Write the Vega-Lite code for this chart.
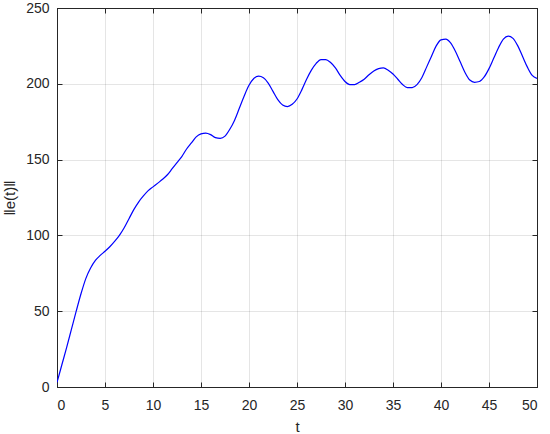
{
  "$schema": "https://vega.github.io/schema/vega-lite/v6.json",
  "width": 480,
  "height": 379,
  "autosize": "none",
  "padding": {"left": 57, "top": 8, "right": 13, "bottom": 47},
  "background": "white",
  "config": {
    "font": "Liberation Sans",
    "view": {"stroke": "#262626", "strokeWidth": 1},
    "axis": {
      "domainColor": "#262626",
      "tickColor": "#262626",
      "labelColor": "#262626",
      "titleColor": "#262626",
      "labelFont": "Liberation Sans",
      "titleFont": "Liberation Sans",
      "labelFontSize": 14,
      "titleFontSize": 15,
      "titleFontWeight": "normal",
      "gridColor": "#262626",
      "gridOpacity": 0.12,
      "tickSize": -5
    }
  },
  "data": {"values": [
    {"t": 0, "v": 3}, {"t": 0.5, "v": 14.5}, {"t": 1, "v": 26}, {"t": 1.5, "v": 38},
    {"t": 2, "v": 50}, {"t": 2.5, "v": 61.5}, {"t": 3, "v": 71.5}, {"t": 3.5, "v": 78.5},
    {"t": 4, "v": 83.5}, {"t": 4.5, "v": 86.8}, {"t": 5, "v": 89.5}, {"t": 5.5, "v": 92.5},
    {"t": 6, "v": 96}, {"t": 6.5, "v": 100}, {"t": 7, "v": 105}, {"t": 7.5, "v": 111},
    {"t": 8, "v": 117}, {"t": 8.5, "v": 122}, {"t": 9, "v": 126}, {"t": 9.5, "v": 129.5},
    {"t": 10, "v": 132}, {"t": 10.5, "v": 134.5}, {"t": 11, "v": 137}, {"t": 11.5, "v": 140},
    {"t": 12, "v": 144}, {"t": 12.5, "v": 148}, {"t": 13, "v": 152}, {"t": 13.5, "v": 157},
    {"t": 14, "v": 161}, {"t": 14.5, "v": 165}, {"t": 15, "v": 167}, {"t": 15.5, "v": 167.5},
    {"t": 16, "v": 166.5}, {"t": 16.5, "v": 164.5}, {"t": 17, "v": 164}, {"t": 17.5, "v": 165.5},
    {"t": 18, "v": 170}, {"t": 18.5, "v": 176}, {"t": 19, "v": 184}, {"t": 19.5, "v": 192},
    {"t": 20, "v": 199}, {"t": 20.5, "v": 203.5}, {"t": 21, "v": 205}, {"t": 21.5, "v": 204},
    {"t": 22, "v": 200.5}, {"t": 22.5, "v": 195}, {"t": 23, "v": 189.5}, {"t": 23.5, "v": 186},
    {"t": 24, "v": 185}, {"t": 24.5, "v": 186.5}, {"t": 25, "v": 190}, {"t": 25.5, "v": 196},
    {"t": 26, "v": 203}, {"t": 26.5, "v": 209}, {"t": 27, "v": 213.5}, {"t": 27.5, "v": 216},
    {"t": 28, "v": 216}, {"t": 28.5, "v": 214}, {"t": 29, "v": 210.5}, {"t": 29.5, "v": 205.5},
    {"t": 30, "v": 201.5}, {"t": 30.5, "v": 199.5}, {"t": 31, "v": 199.5}, {"t": 31.5, "v": 201},
    {"t": 32, "v": 203}, {"t": 32.5, "v": 206}, {"t": 33, "v": 208.5}, {"t": 33.5, "v": 210},
    {"t": 34, "v": 210.5}, {"t": 34.5, "v": 209}, {"t": 35, "v": 206.5}, {"t": 35.5, "v": 203},
    {"t": 36, "v": 199.5}, {"t": 36.5, "v": 197.5}, {"t": 37, "v": 197.5}, {"t": 37.5, "v": 199.5},
    {"t": 38, "v": 204}, {"t": 38.5, "v": 211}, {"t": 39, "v": 218}, {"t": 39.5, "v": 225},
    {"t": 40, "v": 229}, {"t": 40.5, "v": 229.5}, {"t": 41, "v": 227}, {"t": 41.5, "v": 221.5},
    {"t": 42, "v": 214.5}, {"t": 42.5, "v": 207.5}, {"t": 43, "v": 202.5}, {"t": 43.5, "v": 201},
    {"t": 44, "v": 201.5}, {"t": 44.5, "v": 204.5}, {"t": 45, "v": 210}, {"t": 45.5, "v": 217},
    {"t": 46, "v": 224}, {"t": 46.5, "v": 229.5}, {"t": 47, "v": 231.5}, {"t": 47.5, "v": 230},
    {"t": 48, "v": 225}, {"t": 48.5, "v": 218}, {"t": 49, "v": 211}, {"t": 49.5, "v": 205.5},
    {"t": 50, "v": 203.5}
  ]},
  "layer": [
    {
      "mark": {"type": "line", "color": "#0000ff", "strokeWidth": 1.2, "interpolate": "monotone", "clip": true},
      "encoding": {
        "x": {"field": "t", "type": "quantitative", "scale": {"domain": [0, 50], "nice": false, "zero": false},
              "axis": {"orient": "bottom", "title": "t", "values": [0,5,10,15,20,25,30,35,40,45,50], "labelPadding": 16, "titlePadding": 7}},
        "y": {"field": "v", "type": "quantitative", "scale": {"domain": [0, 250], "nice": false},
              "axis": {"orient": "left", "title": "‖e(t)‖", "values": [0,50,100,150,200,250], "labelPadding": 13, "titlePadding": 8}}
      }
    },
    {
      "mark": {"type": "line", "opacity": 0},
      "encoding": {
        "x": {"field": "t", "type": "quantitative",
              "axis": {"orient": "top", "title": null, "labels": false, "grid": false, "values": [0,5,10,15,20,25,30,35,40,45,50]}},
        "y": {"field": "v", "type": "quantitative",
              "axis": {"orient": "right", "title": null, "labels": false, "grid": false, "values": [0,50,100,150,200,250]}}
      }
    }
  ]
}
